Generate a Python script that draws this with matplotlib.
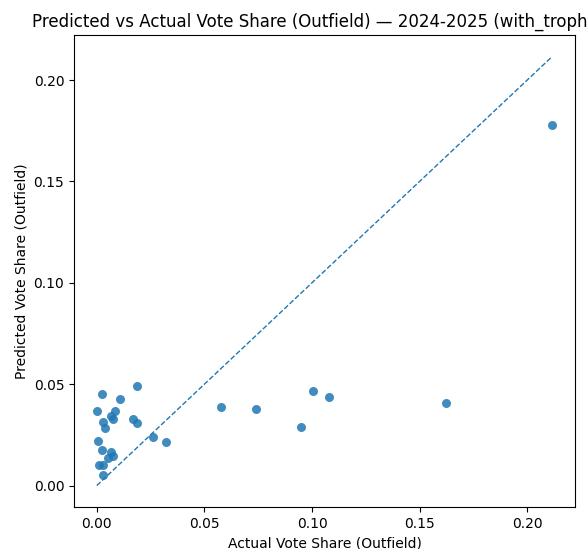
import numpy as np
import matplotlib
matplotlib.use("Agg")
import matplotlib.pyplot as plt

# Actual vs predicted vote share, outfield players.
actual = [0.2116, 0.1622, 0.0577, 0.0741, 0.0949, 0.1006, 0.1078,
          0.0185, 0.0026, 0.0110, 0.0003, 0.0084, 0.0064, 0.0073,
          0.0029, 0.0167, 0.0188, 0.0037, 0.0262, 0.0321, 0.0005,
          0.0026, 0.0064, 0.0076, 0.0054, 0.0011, 0.0029, 0.0029]
predicted = [0.1778, 0.0406, 0.0385, 0.0379, 0.0290, 0.0466, 0.0438,
             0.0492, 0.0451, 0.0425, 0.0367, 0.0369, 0.0344, 0.0329,
             0.0314, 0.0326, 0.0309, 0.0283, 0.0240, 0.0214, 0.0222,
             0.0174, 0.0163, 0.0148, 0.0135, 0.0102, 0.0099, 0.0053]

fig = plt.figure(figsize=(5.88, 5.49), dpi=100)
ax = fig.add_axes([0.1259, 0.0765, 0.852, 0.8597])

ax.scatter(actual, predicted, s=42, color="C0", alpha=0.85, linewidths=0)

# Perfect-prediction reference line.
lim = max(max(actual), max(predicted))
ax.plot([0, lim], [0, lim], linestyle="--", linewidth=1.0, color="C0")

ax.set_xticks([0.0, 0.05, 0.10, 0.15, 0.20])
ax.set_yticks([0.0, 0.05, 0.10, 0.15, 0.20])
ax.xaxis.set_major_formatter(matplotlib.ticker.FormatStrFormatter("%.2f"))
ax.yaxis.set_major_formatter(matplotlib.ticker.FormatStrFormatter("%.2f"))

ax.set_xlabel("Actual Vote Share (Outfield)", fontsize=10)
ax.set_ylabel("Predicted Vote Share (Outfield)", fontsize=10)
ax.set_title("Predicted vs Actual Vote Share (Outfield) \u2014 2024-2025 (with_trophies)",
             fontsize=12)

fig.savefig("out.png", dpi=100)
